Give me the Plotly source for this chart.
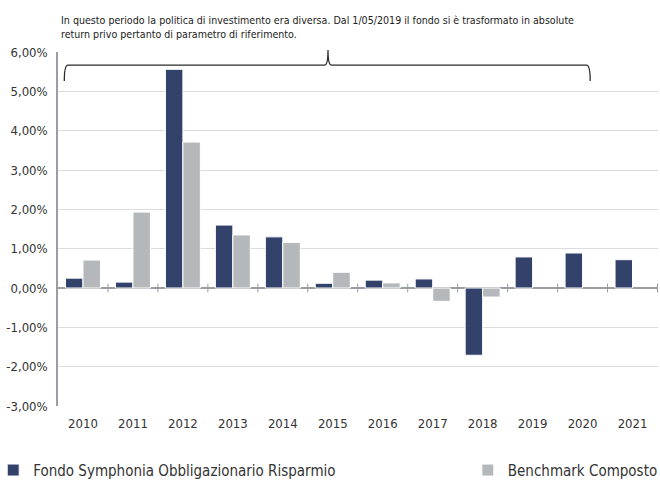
import plotly.graph_objects as go

years = ["2010", "2011", "2012", "2013", "2014", "2015", "2016", "2017", "2018", "2019", "2020", "2021"]
fondo = [0.25, 0.15, 5.56, 1.60, 1.30, 0.12, 0.20, 0.23, -1.71, 0.79, 0.89, 0.72]
benchmark = [0.71, 1.93, 3.71, 1.35, 1.16, 0.40, 0.13, -0.34, -0.23, None, None, None]
y_ticks = [-3, -2, -1, 0, 1, 2, 3, 4, 5, 6]
y_tick_labels = ["-3,00%", "-2,00%", "-1,00%", "0,00%", "1,00%", "2,00%", "3,00%", "4,00%", "5,00%", "6,00%"]
fondo_name = "Fondo Symphonia Obbligazionario Risparmio"
bench_name = "Benchmark Composto"
note = ("In questo periodo la politica di investimento era diversa. Dal 1/05/2019 il fondo si è trasformato in absolute<br>"
        "return privo pertanto di parametro di riferimento.")

FONT = "DejaVu Sans Condensed, Liberation Sans Narrow, sans-serif"
NAVY = "#33426b"
GREY = "#b5b8bb"

fig = go.Figure()
fig.add_trace(go.Bar(x=years, y=fondo, name=fondo_name, legend="legend",
                     marker=dict(color=NAVY, line=dict(color="white", width=1))))
fig.add_trace(go.Bar(x=years, y=benchmark, name=bench_name, legend="legend2",
                     marker=dict(color=GREY, line=dict(color="white", width=1))))

shapes = []
# tick marks on the zero line at category boundaries
for i in range(1, len(years) + 1):
    shapes.append(dict(type="line", xref="x", yref="y", x0=i - 0.5, x1=i - 0.5, y0=-0.11, y1=0.11,
                       line=dict(color="#9a9da1", width=1)))

# curly brace over the period
L, R, M = 0.0105, 0.887, 0.450
yl, ye, yp = 0.963, 0.918, 1.006
dx = 0.006
path = (f"M{L},{ye} Q{L},{yl} {L+dx},{yl} L{M-dx},{yl} Q{M},{yl} {M},{yp} "
        f"Q{M},{yl} {M+dx},{yl} L{R-dx},{yl} Q{R},{yl} {R},{ye}")
shapes.append(dict(type="path", xref="paper", yref="paper", path=path, line=dict(color="#2b2b2b", width=1.3)))

legend_common = dict(orientation="h", y=-0.135, yanchor="top", itemwidth=30,
                     font=dict(size=15, color="#333333", family=FONT), bgcolor="rgba(0,0,0,0)")

fig.update_layout(
    width=660, height=481,
    margin=dict(l=58, r=2, t=52, b=75, autoexpand=False),
    paper_bgcolor="white", plot_bgcolor="white",
    font=dict(family=FONT, color="#333333"),
    barmode="group", bargap=0.3, bargroupgap=0.0,
    showlegend=True,
    legend=dict(x=-0.108, xanchor="left", **legend_common),
    legend2=dict(x=0.683, xanchor="left", **legend_common),
    shapes=shapes,
    annotations=[dict(text=note, xref="paper", yref="paper", x=0.002, y=1.114, xanchor="left", yanchor="top",
                      align="left", showarrow=False, font=dict(size=10.6, color="#222222", family=FONT))],
    xaxis=dict(type="category", showgrid=False, showline=False, ticks="", automargin=False,
               tickfont=dict(size=13, color="#333333"), ticklabelstandoff=8),
    yaxis=dict(range=[-3, 6], tickvals=y_ticks, ticktext=y_tick_labels, showgrid=True, automargin=False,
               gridcolor="#dcdcdc", gridwidth=1, zeroline=True, zerolinecolor="#9a9da1", zerolinewidth=1.5,
               showline=True, linecolor="#9a9da1", linewidth=1.5, ticks="",
               tickfont=dict(size=13, color="#333333"), ticklabelstandoff=6),
)

fig.write_html("out.html", config={"displayModeBar": False},
               post_script="document.body.style.margin='0';")
